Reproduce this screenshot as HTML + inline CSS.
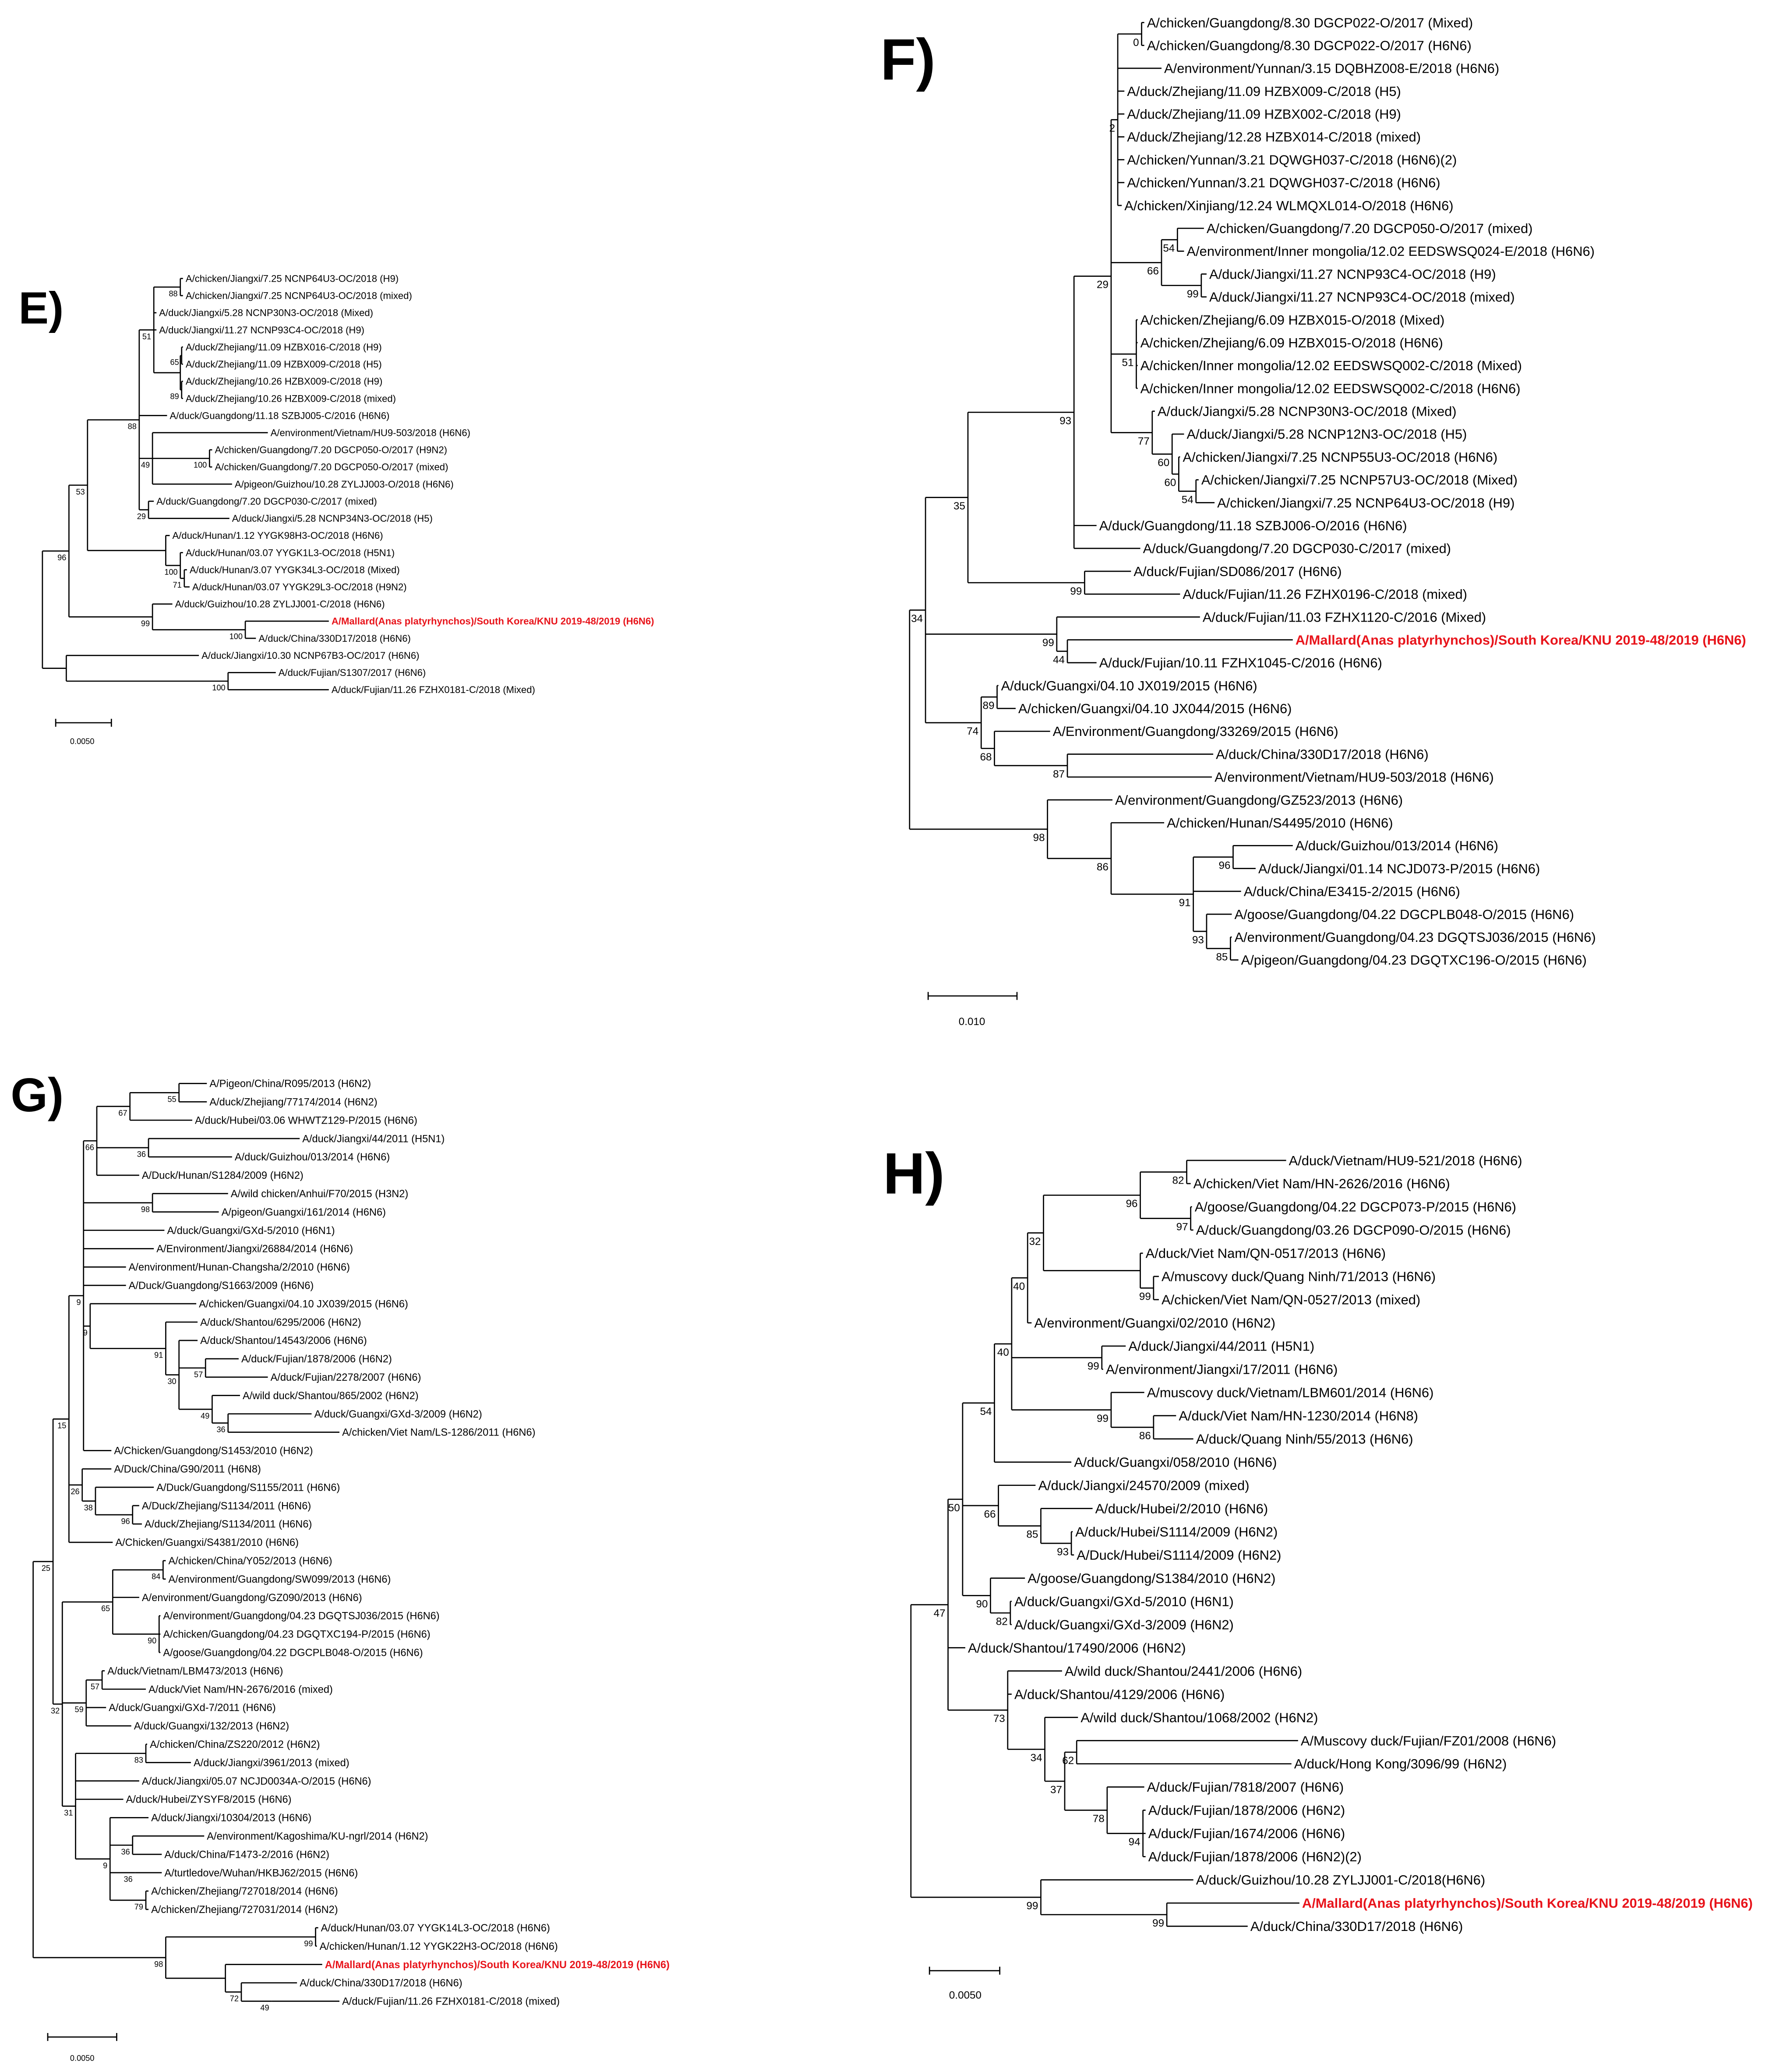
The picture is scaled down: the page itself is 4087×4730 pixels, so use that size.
<!DOCTYPE html>
<html><head><meta charset="utf-8">
<style>
html,body{margin:0;padding:0;background:#fff;}
svg{display:block;}
text{font-family:"Liberation Sans",Arial,sans-serif;fill:#000;stroke:none;}
#g path{stroke:#000;stroke-width:0.9;fill:none;}
</style></head>
<body>
<svg id="s" xmlns="http://www.w3.org/2000/svg" width="4087" height="4730" viewBox="0 0 1350 1562.4" preserveAspectRatio="none">
<rect width="1350" height="1563" fill="#fff"/>
<g id="g"></g>
<text x="14" y="244" font-size="34" font-weight="bold">E)</text>
<text x="664" y="60" font-size="44" font-weight="bold">F)</text>
<text x="8" y="838" font-size="36" font-weight="bold">G)</text>
<text x="666" y="900" font-size="44" font-weight="bold">H)</text>
<g stroke="#000" stroke-width="0.9" fill="none">
<path d="M42 545H84M42 542V548M84 542V548"/>
<path d="M700 751H767M700 748V754M767 748V754"/>
<path d="M36 1536H88M36 1533V1539M88 1533V1539"/>
<path d="M701 1486H754M701 1483V1489M754 1483V1489"/>
</g>
<text x="62" y="561" font-size="6" text-anchor="middle">0.0050</text>
<text x="733" y="773" font-size="8" text-anchor="middle">0.010</text>
<text x="62" y="1554" font-size="6" text-anchor="middle">0.0050</text>
<text x="728" y="1507" font-size="8" text-anchor="middle">0.0050</text>
</svg>
<script>
function L(x,t,red){return {x:x,t:t,red:red};}
function N(x,b){return {x:x,b:b,k:Array.prototype.slice.call(arguments,2)};}
var out=[];
function render(root,y0,step,fs,bfs){
  var i=0;
  function lay(n){ if(n.t!==undefined){n.y=y0+step*(i++);return;} n.k.forEach(lay); n.y=(n.k[0].y+n.k[n.k.length-1].y)/2; }
  lay(root);
  function dr(n){
    if(n.t!==undefined){
      out.push('<text x="'+n.x+'" y="'+(n.y+fs*0.35).toFixed(2)+'" font-size="'+fs+'"'+(n.red?' style="fill:#e8141b;font-weight:bold"':'')+'>'+n.t+'</text>');
      return;
    }
    var a=n.k[0].y,b=n.k[n.k.length-1].y;
    out.push('<path d="M'+n.x+' '+a.toFixed(2)+'V'+b.toFixed(2)+'" />');
    n.k.forEach(function(c){
      var ex=c.t!==undefined?c.x-2:c.x;
      out.push('<path d="M'+n.x+' '+c.y.toFixed(2)+'H'+ex+'" />');
      dr(c);
    });
    if(n.b) out.push('<text x="'+(n.x-2)+'" y="'+(n.y+bfs+1).toFixed(2)+'" font-size="'+bfs+'" text-anchor="end">'+n.b+'</text>');
  }
  dr(root);
}
var M='A/Mallard(Anas platyrhynchos)/South Korea/KNU 2019-48/2019 (H6N6)';
var E=N(32,'',
 N(52,'96',
   N(66,'53',
     N(105,'88',
       N(116,'51', N(136,'88',L(140,'A/chicken/Jiangxi/7.25 NCNP64U3-OC/2018 (H9)'),L(140,'A/chicken/Jiangxi/7.25 NCNP64U3-OC/2018 (mixed)')),
         L(120,'A/duck/Jiangxi/5.28 NCNP30N3-OC/2018 (Mixed)'),L(120,'A/duck/Jiangxi/11.27 NCNP93C4-OC/2018 (H9)'),
         N(136,'',N(137,'65',L(140,'A/duck/Zhejiang/11.09 HZBX016-C/2018 (H9)'),L(140,'A/duck/Zhejiang/11.09 HZBX009-C/2018 (H5)')),
                  N(137,'89',L(140,'A/duck/Zhejiang/10.26 HZBX009-C/2018 (H9)'),L(140,'A/duck/Zhejiang/10.26 HZBX009-C/2018 (mixed)')))),
       L(128,'A/duck/Guangdong/11.18 SZBJ005-C/2016 (H6N6)'),
       N(115,'49',L(204,'A/environment/Vietnam/HU9-503/2018 (H6N6)'),N(158,'100',L(162,'A/chicken/Guangdong/7.20 DGCP050-O/2017 (H9N2)'),L(162,'A/chicken/Guangdong/7.20 DGCP050-O/2017 (mixed)')),L(177,'A/pigeon/Guizhou/10.28 ZYLJJ003-O/2018 (H6N6)')),
       N(112,'29',L(118,'A/duck/Guangdong/7.20 DGCP030-C/2017 (mixed)'),L(175,'A/duck/Jiangxi/5.28 NCNP34N3-OC/2018 (H5)'))
     ),
     N(125,'',L(130,'A/duck/Hunan/1.12 YYGK98H3-OC/2018 (H6N6)'),N(136,'100',L(140,'A/duck/Hunan/03.07 YYGK1L3-OC/2018 (H5N1)'),N(139,'71',L(143,'A/duck/Hunan/3.07 YYGK34L3-OC/2018 (Mixed)'),L(145,'A/duck/Hunan/03.07 YYGK29L3-OC/2018 (H9N2)'))))
   ),
   N(115,'99',L(132,'A/duck/Guizhou/10.28 ZYLJJ001-C/2018 (H6N6)'),N(185,'100',L(250,M,1),L(195,'A/duck/China/330D17/2018 (H6N6)')))
 ),
 N(50,'',L(152,'A/duck/Jiangxi/10.30 NCNP67B3-OC/2017 (H6N6)'),N(172,'100',L(210,'A/duck/Fujian/S1307/2017 (H6N6)'),L(250,'A/duck/Fujian/11.26 FZHX0181-C/2018 (Mixed)')))
);
render(E,210,12.92,7.3,6);
var F=N(686,'',
 N(698,'34',
  N(730,'35',
   N(810,'93',
    N(838,'29',
     N(843,'2',N(861,'0',L(865,'A/chicken/Guangdong/8.30 DGCP022-O/2017 (Mixed)'),L(865,'A/chicken/Guangdong/8.30 DGCP022-O/2017 (H6N6)')),
       L(878,'A/environment/Yunnan/3.15 DQBHZ008-E/2018 (H6N6)'),
       L(850,'A/duck/Zhejiang/11.09 HZBX009-C/2018 (H5)'),L(850,'A/duck/Zhejiang/11.09 HZBX002-C/2018 (H9)'),L(850,'A/duck/Zhejiang/12.28 HZBX014-C/2018 (mixed)'),
       L(850,'A/chicken/Yunnan/3.21 DQWGH037-C/2018 (H6N6)(2)'),L(850,'A/chicken/Yunnan/3.21 DQWGH037-C/2018 (H6N6)'),L(848,'A/chicken/Xinjiang/12.24 WLMQXL014-O/2018 (H6N6)')),
     N(876,'66',N(888,'54',L(910,'A/chicken/Guangdong/7.20 DGCP050-O/2017 (mixed)'),L(895,'A/environment/Inner mongolia/12.02 EEDSWSQ024-E/2018 (H6N6)')),
       N(906,'99',L(912,'A/duck/Jiangxi/11.27 NCNP93C4-OC/2018 (H9)'),L(912,'A/duck/Jiangxi/11.27 NCNP93C4-OC/2018 (mixed)'))),
     N(857,'51',L(860,'A/chicken/Zhejiang/6.09 HZBX015-O/2018 (Mixed)'),L(860,'A/chicken/Zhejiang/6.09 HZBX015-O/2018 (H6N6)'),L(860,'A/chicken/Inner mongolia/12.02 EEDSWSQ002-C/2018 (Mixed)'),L(860,'A/chicken/Inner mongolia/12.02 EEDSWSQ002-C/2018 (H6N6)')),
     N(869,'77',L(873,'A/duck/Jiangxi/5.28 NCNP30N3-OC/2018 (Mixed)'),N(884,'60',L(895,'A/duck/Jiangxi/5.28 NCNP12N3-OC/2018 (H5)'),N(889,'60',L(892,'A/chicken/Jiangxi/7.25 NCNP55U3-OC/2018 (H6N6)'),N(902,'54',L(906,'A/chicken/Jiangxi/7.25 NCNP57U3-OC/2018 (Mixed)'),L(918,'A/chicken/Jiangxi/7.25 NCNP64U3-OC/2018 (H9)')))))
    ),
    L(829,'A/duck/Guangdong/11.18 SZBJ006-O/2016 (H6N6)'),L(862,'A/duck/Guangdong/7.20 DGCP030-C/2017 (mixed)')
   ),
   N(818,'99',L(855,'A/duck/Fujian/SD086/2017 (H6N6)'),L(892,'A/duck/Fujian/11.26 FZHX0196-C/2018 (mixed)'))
  ),
  N(797,'99',L(907,'A/duck/Fujian/11.03 FZHX1120-C/2016 (Mixed)'),N(805,'44',L(977,M,1),L(829,'A/duck/Fujian/10.11 FZHX1045-C/2016 (H6N6)'))),
  N(740,'74',N(752,'89',L(755,'A/duck/Guangxi/04.10 JX019/2015 (H6N6)'),L(768,'A/chicken/Guangxi/04.10 JX044/2015 (H6N6)')),
    N(750,'68',L(794,'A/Environment/Guangdong/33269/2015 (H6N6)'),N(805,'87',L(917,'A/duck/China/330D17/2018 (H6N6)'),L(916,'A/environment/Vietnam/HU9-503/2018 (H6N6)'))))
 ),
 N(790,'98',L(841,'A/environment/Guangdong/GZ523/2013 (H6N6)'),
  N(838,'86',L(880,'A/chicken/Hunan/S4495/2010 (H6N6)'),
   N(900,'91',N(930,'96',L(977,'A/duck/Guizhou/013/2014 (H6N6)'),L(949,'A/duck/Jiangxi/01.14 NCJD073-P/2015 (H6N6)')),
     L(938,'A/duck/China/E3415-2/2015 (H6N6)'),
     N(910,'93',L(931,'A/goose/Guangdong/04.22 DGCPLB048-O/2015 (H6N6)'),N(928,'85',L(931,'A/environment/Guangdong/04.23 DGQTSJ036/2015 (H6N6)'),L(936,'A/pigeon/Guangdong/04.23 DGQTXC196-O/2015 (H6N6)'))))))
);
render(F,17,17.24,10.2,8);
var G=N(25,'',
 N(40,'25',
  N(52,'15',
   N(63,'9',
    N(73,'66',N(98,'67',N(135,'55',L(158,'A/Pigeon/China/R095/2013 (H6N2)'),L(158,'A/duck/Zhejiang/77174/2014 (H6N2)')),L(147,'A/duck/Hubei/03.06 WHWTZ129-P/2015 (H6N6)')),
      N(112,'36',L(228,'A/duck/Jiangxi/44/2011 (H5N1)'),L(177,'A/duck/Guizhou/013/2014 (H6N6)')),L(107,'A/Duck/Hunan/S1284/2009 (H6N2)')),
    N(115,'98',L(174,'A/wild chicken/Anhui/F70/2015 (H3N2)'),L(167,'A/pigeon/Guangxi/161/2014 (H6N6)')),
    L(126,'A/duck/Guangxi/GXd-5/2010 (H6N1)'),L(118,'A/Environment/Jiangxi/26884/2014 (H6N6)'),
    L(97,'A/environment/Hunan-Changsha/2/2010 (H6N6)'),L(97,'A/Duck/Guangdong/S1663/2009 (H6N6)'),
    N(68,'9',L(150,'A/chicken/Guangxi/04.10 JX039/2015 (H6N6)'),
      N(125,'91',L(151,'A/duck/Shantou/6295/2006 (H6N2)'),
        N(135,'30',L(151,'A/duck/Shantou/14543/2006 (H6N6)'),
          N(155,'57',L(182,'A/duck/Fujian/1878/2006 (H6N2)'),L(204,'A/duck/Fujian/2278/2007 (H6N6)')),
          N(160,'49',L(183,'A/wild duck/Shantou/865/2002 (H6N2)'),N(172,'36',L(237,'A/duck/Guangxi/GXd-3/2009 (H6N2)'),L(258,'A/chicken/Viet Nam/LS-1286/2011 (H6N6)')))))),
    L(86,'A/Chicken/Guangdong/S1453/2010 (H6N2)')
   ),
   N(62,'26',L(86,'A/Duck/China/G90/2011 (H6N8)'),N(72,'38',L(118,'A/Duck/Guangdong/S1155/2011 (H6N6)'),N(100,'96',L(107,'A/Duck/Zhejiang/S1134/2011 (H6N6)'),L(109,'A/duck/Zhejiang/S1134/2011 (H6N6)')))),
   L(87,'A/Chicken/Guangxi/S4381/2010 (H6N6)')
  ),
  N(47,'32',
   N(85,'65',N(123,'84',L(127,'A/chicken/China/Y052/2013 (H6N6)'),L(127,'A/environment/Guangdong/SW099/2013 (H6N6)')),L(107,'A/environment/Guangdong/GZ090/2013 (H6N6)'),
     N(120,'90',L(123,'A/environment/Guangdong/04.23 DGQTSJ036/2015 (H6N6)'),L(123,'A/chicken/Guangdong/04.23 DGQTXC194-P/2015 (H6N6)'),L(123,'A/goose/Guangdong/04.22 DGCPLB048-O/2015 (H6N6)'))),
   N(65,'59',N(77,'57',L(81,'A/duck/Vietnam/LBM473/2013 (H6N6)'),L(112,'A/duck/Viet Nam/HN-2676/2016 (mixed)')),L(82,'A/duck/Guangxi/GXd-7/2011 (H6N6)'),L(101,'A/duck/Guangxi/132/2013 (H6N2)')),
   N(57,'31',N(110,'83',L(113,'A/chicken/China/ZS220/2012 (H6N2)'),L(146,'A/duck/Jiangxi/3961/2013 (mixed)')),L(107,'A/duck/Jiangxi/05.07 NCJD0034A-O/2015 (H6N6)'),L(95,'A/duck/Hubei/ZYSYF8/2015 (H6N6)'),
     N(83,'9',L(114,'A/duck/Jiangxi/10304/2013 (H6N6)'),N(100,'36',L(156,'A/environment/Kagoshima/KU-ngrl/2014 (H6N2)'),L(124,'A/duck/China/F1473-2/2016 (H6N2)')),
       N(102,'36',L(124,'A/turtledove/Wuhan/HKBJ62/2015 (H6N6)')),N(110,'79',L(114,'A/chicken/Zhejiang/727018/2014 (H6N6)'),L(114,'A/chicken/Zhejiang/727031/2014 (H6N2)'))))
  )
 ),
 N(125,'98',N(238,'99',L(242,'A/duck/Hunan/03.07 YYGK14L3-OC/2018 (H6N6)'),L(241,'A/chicken/Hunan/1.12 YYGK22H3-OC/2018 (H6N6)')),
   N(170,'',L(245,M,1),N(182,'72',L(226,'A/duck/China/330D17/2018 (H6N6)'),N(205,'49',L(258,'A/duck/Fujian/11.26 FZHX0181-C/2018 (mixed)')))))
);
render(G,817,13.84,7.8,6);
var H=N(687,'',
 N(715,'47',
  N(726,'50',
   N(750,'54',
    N(763,'40',
     N(775,'40',
      N(787,'32',
       N(860,'96',N(895,'82',L(972,'A/duck/Vietnam/HU9-521/2018 (H6N6)'),L(900,'A/chicken/Viet Nam/HN-2626/2016 (H6N6)')),
         N(898,'97',L(901,'A/goose/Guangdong/04.22 DGCP073-P/2015 (H6N6)'),L(902,'A/duck/Guangdong/03.26 DGCP090-O/2015 (H6N6)'))),
       N(860,'',L(864,'A/duck/Viet Nam/QN-0517/2013 (H6N6)'),N(870,'99',L(876,'A/muscovy duck/Quang Ninh/71/2013 (H6N6)'),L(876,'A/chicken/Viet Nam/QN-0527/2013 (mixed)')))),
      L(780,'A/environment/Guangxi/02/2010 (H6N2)')),
     N(831,'99',L(851,'A/duck/Jiangxi/44/2011 (H5N1)'),L(834,'A/environment/Jiangxi/17/2011 (H6N6)')),
     N(838,'99',L(865,'A/muscovy duck/Vietnam/LBM601/2014 (H6N6)'),N(870,'86',L(889,'A/duck/Viet Nam/HN-1230/2014 (H6N8)'),L(902,'A/duck/Quang Ninh/55/2013 (H6N6)')))),
    L(810,'A/duck/Guangxi/058/2010 (H6N6)')),
   N(753,'66',L(783,'A/duck/Jiangxi/24570/2009 (mixed)'),N(785,'85',L(826,'A/duck/Hubei/2/2010 (H6N6)'),N(808,'93',L(811,'A/duck/Hubei/S1114/2009 (H6N2)'),L(812,'A/Duck/Hubei/S1114/2009 (H6N2)')))),
   N(747,'90',L(775,'A/goose/Guangdong/S1384/2010 (H6N2)'),N(762,'82',L(765,'A/duck/Guangxi/GXd-5/2010 (H6N1)'),L(765,'A/duck/Guangxi/GXd-3/2009 (H6N2)')))
  ),
  L(730,'A/duck/Shantou/17490/2006 (H6N2)'),
  N(760,'73',L(803,'A/wild duck/Shantou/2441/2006 (H6N6)'),L(765,'A/duck/Shantou/4129/2006 (H6N6)'),
    N(788,'34',L(815,'A/wild duck/Shantou/1068/2002 (H6N2)'),
      N(803,'37',N(812,'62',L(981,'A/Muscovy duck/Fujian/FZ01/2008 (H6N6)'),L(976,'A/duck/Hong Kong/3096/99 (H6N2)')),
        N(835,'78',L(865,'A/duck/Fujian/7818/2007 (H6N6)'),N(862,'94',L(866,'A/duck/Fujian/1878/2006 (H6N2)'),L(866,'A/duck/Fujian/1674/2006 (H6N6)'),L(866,'A/duck/Fujian/1878/2006 (H6N2)(2)'))))))
 ),
 N(785,'99',L(902,'A/duck/Guizhou/10.28 ZYLJJ001-C/2018(H6N6)'),N(880,'99',L(982,M,1),L(943,'A/duck/China/330D17/2018 (H6N6)')))
);
render(H,875,17.5,10.2,8);
document.getElementById('g').innerHTML=out.join('');
</script>
</body></html>
